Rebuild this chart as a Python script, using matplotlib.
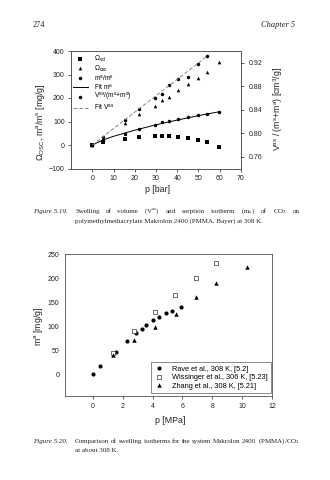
import numpy as np
import matplotlib
matplotlib.use('Agg')
import matplotlib.pyplot as plt

plt.rcParams['font.family'] = 'Liberation Sans'
plt.rcParams['mathtext.fontset'] = 'custom'
plt.rcParams['mathtext.rm'] = 'Liberation Sans'
plt.rcParams['mathtext.it'] = 'Liberation Sans:italic'
plt.rcParams['mathtext.bf'] = 'Liberation Sans:bold'

# Figure 5.19 : swelling / sorption vs p [bar]
p_bar = [0, 5, 15.5, 22, 29.5, 33, 36, 40.5, 45, 50, 54, 59.5]
omega_vol = [0, 12, 25, 32, 38, 38, 38, 36, 31, 22, 11, -9]
omega_osc = [0, 24, 95, 133, 166, 192, 206, 234, 258, 284, 309, 354]
ma_ms = [0, 20, 46, 68, 87, 96, 104, 112, 121, 128, 133, 142]
p_vas = [0, 5, 15.5, 22, 29.5, 33, 36, 40.5, 45, 50, 54]
v_as = [0.780, 0.794, 0.823, 0.841, 0.860, 0.866, 0.882, 0.893, 0.895, 0.918, 0.932]
fit_m_p = [0, 5, 10, 20, 30, 40, 50, 60]
fit_m = [0, 21, 37, 63, 86, 106, 125, 142]
fit_v_p = [0, 54]
fit_v = [0.780, 0.931]

# Figure 5.20 : comparison of swelling isotherms vs p [MPa]
rave_p = [0, 0.5, 1.55, 2.27, 2.9, 3.27, 3.55, 4.0, 4.45, 4.93, 5.3, 5.93]
rave_m = [0, 18, 47, 69, 86, 95, 102, 112, 119, 128, 132, 141]
wiss_p = [1.35, 2.75, 4.15, 5.5, 6.9, 8.27]
wiss_m = [44, 90, 130, 165, 200, 231]
zhang_p = [1.38, 2.75, 4.15, 5.55, 6.9, 8.27, 10.33]
zhang_m = [39, 71, 98, 126, 160, 190, 223]

W, H = 330, 480
fig = plt.figure(figsize=(W / 100, H / 100), dpi=100)
serif = 'Liberation Serif'
spine_c = '#555555'
txt_c = '#222222'
cap_size = 5.0


def axes_px(left, top, right, bottom):
    return fig.add_axes([left / W, 1 - bottom / H, (right - left) / W, (bottom - top) / H])


def style_axes(ax):
    for s in ax.spines.values():
        s.set_color(spine_c)
        s.set_linewidth(0.6)
    ax.tick_params(labelsize=5, colors=txt_c, length=2, width=0.5, pad=2.5)


def caption_line(words, x0, x1, y, italic_first=False):
    # words placed on one baseline and spread from x0 to x1 (justified)
    rend = fig.canvas.get_renderer()
    items = [fig.text(0, 1 - y / H, w, fontsize=cap_size, family=serif, va='baseline',
                      math_fontfamily='stix', color=txt_c) for w in words]
    if italic_first:
        items[0].set_style('italic')
    widths = [t.get_window_extent(rend).width for t in items]
    gap = (x1 - x0 - sum(widths)) / max(len(items) - 1, 1)
    x = x0
    for t, wd in zip(items, widths):
        t.set_x(x / W)
        x += wd + gap


# header
fig.text(33 / W, 1 - 27 / H, '274', fontsize=6, family=serif, va='baseline', color=txt_c)
fig.text(295 / W, 1 - 27 / H, 'Chapter 5', fontsize=6, family=serif, style='italic',
         va='baseline', ha='right', color=txt_c)

# ---- top chart
ax = axes_px(71, 51, 241, 168.5)
ax2 = ax.twinx()
style_axes(ax)
style_axes(ax2)
ax.set_xlim(-10, 70)
ax.set_ylim(-100, 400)
ax2.set_ylim(0.74, 0.94)
ax.set_xticks(np.arange(0, 71, 10))
ax.set_yticks(np.arange(-100, 401, 100))
ax2.set_yticks(np.arange(0.76, 0.93, 0.04))
ax2.set_yticklabels(['%.2f' % v for v in np.arange(0.76, 0.93, 0.04)])
ax2.tick_params(axis='y', pad=3.5)

h1, = ax.plot(p_bar, omega_vol, 's', color='k', ms=2.2, mew=0, label=r'$\Omega_{\rm vol}$')
h2, = ax.plot(p_bar, omega_osc, '^', color='k', ms=2.6, mew=0, label=r'$\Omega_{\rm osc}$')
h3, = ax.plot(p_bar, ma_ms, 'o', color='k', ms=2.5, mew=0, label=r'm$^{\rm a}$/m$^{\rm s}$')
h4, = ax.plot(fit_m_p, fit_m, '-', color='k', lw=0.7, label=r'Fit m$^{\rm a}$')
h5, = ax2.plot(p_vas, v_as, 'o', color='k', ms=2.5, mew=0, label=r'V$^{\rm as}$/(m$^{\rm s}$+m$^{\rm a}$)')
h6, = ax2.plot(fit_v_p, fit_v, '--', color='#888888', lw=0.7, dashes=(4, 2), label=r'Fit V$^{\rm as}$')
ax2.legend(handles=[h1, h2, h3, h4, h5, h6], loc='upper left', bbox_to_anchor=(0.012, 0.975),
           frameon=False, fontsize=4.8, borderaxespad=0, borderpad=0, handlelength=2.2,
           handletextpad=0.9, labelspacing=-0.12)

ax.set_xlabel('p [bar]', fontsize=6.3, color=txt_c)
ax.xaxis.label.set_va('center')
ax.xaxis.set_label_coords(0.506, -0.176)
ax.set_ylabel(r'$\Omega_{\rm OSC}$, m$^{\rm a}$/m$^{\rm s}$ [mg/g]', fontsize=6.3, color=txt_c)
ax.yaxis.label.set_va('center')
ax.yaxis.set_label_coords(-0.182, 0.39)
ax2.set_ylabel(r'V$^{\rm as}$ / (m$^{\rm s}$+m$^{\rm a}$) [cm$^3$/g]', fontsize=6.3, color=txt_c)
ax2.yaxis.label.set_va('center')
ax2.yaxis.set_label_coords(1.216, 0.51)

caption_line(['Figure 5.19.'], 33, 33, 213, italic_first=True)
caption_line(['Swelling', 'of', 'volume', r'(V$^{\rm as}$)', 'and', 'sorption', 'isotherm',
              r'(m$_{\rm a}$)', 'of', r'CO$_2$', 'on'], 75, 300, 213)
fig.text(75 / W, 1 - 223 / H, 'polymethylmethacrylate Makrolon 2400 (PMMA, Bayer) at 308 K.',
         fontsize=cap_size, family=serif, va='baseline', color=txt_c)

# ---- bottom chart
bx = axes_px(65, 254.3, 272.3, 395.7)
style_axes(bx)
bx.set_xlim(-1.85, 12)
bx.set_ylim(-45, 250)
bx.set_xticks(np.arange(0, 13, 2))
bx.set_yticks(np.arange(0, 251, 50))
bx.tick_params(axis='y', length=0, pad=4)
bx.tick_params(axis='x', pad=3.5)
bx.plot(rave_p, rave_m, 'o', color='k', ms=3, mew=0, label='Rave et al., 308 K, [5.2]')
bx.plot(wiss_p, wiss_m, 's', mfc='white', mec='#333333', ms=2.8, mew=0.5,
        label='Wissinger et al., 306 K, [5.23]')
bx.plot(zhang_p, zhang_m, '^', color='k', ms=3.2, mew=0, label='Zhang et al., 308 K, [5.21]')
leg = bx.legend(loc='lower right', bbox_to_anchor=(0.992, 0.021), fontsize=5.3, borderaxespad=0,
                fancybox=False, handlelength=1.2, handletextpad=1.2, labelspacing=0.2,
                borderpad=0.4)
leg.get_frame().set_edgecolor(spine_c)
leg.get_frame().set_linewidth(0.6)
bx.set_xlabel('p [MPa]', fontsize=6.3, color=txt_c)
bx.xaxis.label.set_va('center')
bx.xaxis.set_label_coords(0.506, -0.172)
bx.set_ylabel(r'm$^{\rm a}$ [mg/g]', fontsize=6.3, color=txt_c)
bx.yaxis.label.set_va('center')
bx.yaxis.set_label_coords(-0.129, 0.493)

caption_line(['Figure 5.20.'], 33, 33, 443, italic_first=True)
caption_line(['Comparison', 'of', 'swelling', 'isotherms', 'for', 'the', 'system', 'Makrolon',
              '2400', r'(PMMA)/CO$_2$'], 75, 300, 443)
fig.text(75 / W, 1 - 452 / H, 'at about 308 K.', fontsize=cap_size, family=serif, va='baseline',
         color=txt_c)

fig.savefig('out.png', dpi=100)
